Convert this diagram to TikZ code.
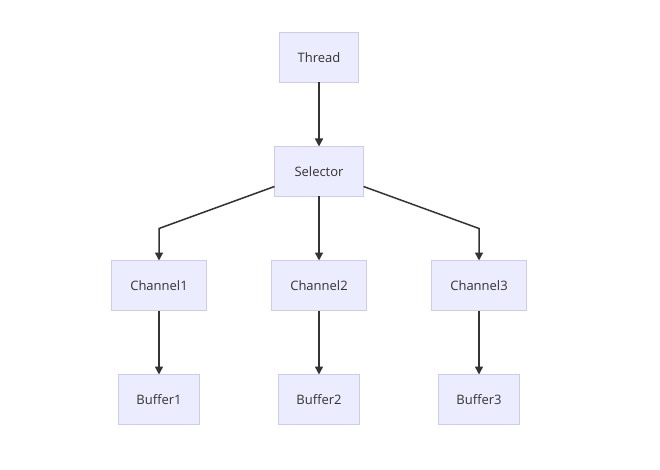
\documentclass[tikz,border=0pt]{standalone}
\usepackage{fontspec}
\setmainfont{Open Sans}
\usepackage{tikz}
\usetikzlibrary{positioning,arrows.meta}
\definecolor{nodefill}{RGB}{236,236,255}
\definecolor{nodedraw}{RGB}{204,204,240}
\definecolor{edgecolor}{RGB}{51,51,51}

\begin{document}
\begin{tikzpicture}[x=1pt,y=-1pt,node distance=64pt,every node/.style={font=\fontsize{13pt}{15pt}\selectfont,text=edgecolor},box/.style={draw=nodedraw,fill=nodefill,line width=1pt,outer sep=0pt,inner xsep=0pt,minimum height=50pt},link/.style={-{Triangle[length=8pt,width=8pt]},line width=1.5pt,draw=edgecolor}]
  \useasboundingbox[fill=white] (0,0) rectangle (660,470);
  \node[box,minimum width=79pt] (thread) at (319,57.5) {Thread};
  \node[box,minimum width=89pt,below=of thread] (selector) {Selector};
  \node[box,minimum width=95pt,below=of selector] (channel2) {Channel2};
  \node[box,minimum width=95pt,left=65pt of channel2] (channel1) {Channel1};
  \node[box,minimum width=95pt,right=65pt of channel2] (channel3) {Channel3};
  \node[box,minimum width=81pt,below=of channel1] (buffer1) {Buffer1};
  \node[box,minimum width=81pt,below=of channel2] (buffer2) {Buffer2};
  \node[box,minimum width=81pt,below=of channel3] (buffer3) {Buffer3};
  \draw[link] (thread)--(selector);
  \draw[link] ([yshift=10pt]selector.south west)--([yshift=32pt]channel1.north)--(channel1);
  \draw[link] (selector)--(channel2);
  \draw[link] ([yshift=10pt]selector.south east)--([yshift=32pt]channel3.north)--(channel3);
  \draw[link] (channel1)--(buffer1);
  \draw[link] (channel2)--(buffer2);
  \draw[link] (channel3)--(buffer3);
\end{tikzpicture}
\end{document}
